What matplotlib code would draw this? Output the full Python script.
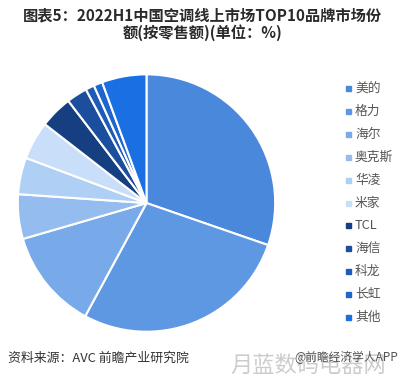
import matplotlib.pyplot as plt

plt.rcParams['font.family'] = ['Noto Sans CJK SC', 'DejaVu Sans']

brands = ['美的', '格力', '海尔', '奥克斯', '华凌', '米家', 'TCL', '海信', '科龙', '长虹', '其他']
share = [30.3, 27.6, 12.6, 5.6, 4.6, 4.8, 4.1, 2.6, 1.1, 1.1, 5.6]
colors = ['#4a88dc', '#5f98e2', '#78aaea', '#95bcef', '#b0cff4', '#c9def8',
          '#163f82', '#1b4f9e', '#1d5bb8', '#1f66cc', '#1a6fe3']

fig = plt.figure(figsize=(4.05, 3.8), dpi=100)
ax = fig.add_axes([0.0407, 0.1237, 0.642, 0.684])
ax.pie(share, colors=colors, startangle=90, counterclock=False,
       wedgeprops=dict(edgecolor='white', linewidth=1.5))
ax.set_xlim(-1.01, 1.01)
ax.set_ylim(-1.01, 1.01)
ax.set_aspect('equal')

# legend rows
y0 = 1 - 89 / 380
dy = 22.8 / 380
for i, (b, c) in enumerate(zip(brands, colors)):
    y = y0 - i * dy
    fig.patches.append(plt.Rectangle((346 / 405, y - 2.5 / 380), 5 / 405, 5 / 380,
                                     transform=fig.transFigure, color=c))
    fig.text(355 / 405, y, b, fontsize=9.2, color='#555555', va='center', ha='left')

fig.text(0.5, 1 - 15 / 380, '图表5：2022H1中国空调线上市场TOP10品牌市场份', fontsize=11,
         fontweight='bold', ha='center', va='center', color='#2a2a2a')
fig.text(0.5, 1 - 33 / 380, '额(按零售额)(单位：%)', fontsize=11,
         fontweight='bold', ha='center', va='center', color='#2a2a2a')

fig.text(8 / 405, 1 - 358 / 380, '资料来源：AVC 前瞻产业研究院', fontsize=9.3,
         ha='left', va='center', color='#333333')
fig.text(308 / 405, 1 - 365 / 380, '月蓝数码电器网', fontsize=16,
         ha='center', va='center', color='#cccccc')
fig.text(398 / 405, 1 - 357 / 380, '@前瞻经济学人APP', fontsize=8.5,
         ha='right', va='center', color='#555555')

fig.savefig('out.png', dpi=100)
